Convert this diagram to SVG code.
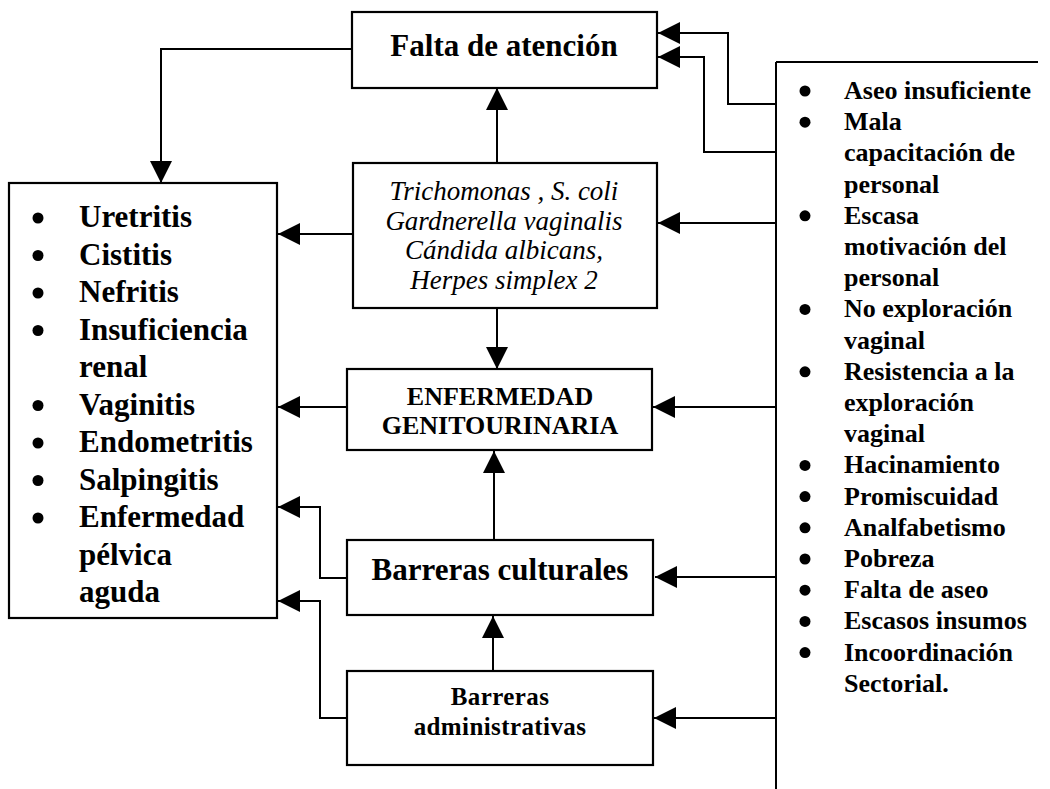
<svg xmlns="http://www.w3.org/2000/svg" width="1050" height="789" viewBox="0 0 1050 789">
<style>
.box{fill:#fff;stroke:#000;stroke-width:2.2}
.ln{fill:none;stroke:#000;stroke-width:2}
.b{font-family:"Liberation Serif","Times New Roman",serif;font-weight:bold;fill:#000}
.it{font-family:"Liberation Serif","Times New Roman",serif;font-style:italic;fill:#000;font-size:27px}
.c{text-anchor:middle}
.L{font-size:31px}
.R{font-size:26px}
</style>
<defs>
<marker id="ah" markerUnits="userSpaceOnUse" markerWidth="23" markerHeight="23" refX="22" refY="11" orient="auto">
<path d="M0,0 L22,11 L0,22 z" fill="#000"/>
</marker>
</defs>
<rect width="1050" height="789" fill="#fff"/>
<g id="connectors">
<path class="ln" marker-end="url(#ah)" d="M352,49 H161 V183"/>
<path class="ln" marker-end="url(#ah)" d="M497,163 V88"/>
<path class="ln" marker-end="url(#ah)" d="M352,234 H278"/>
<path class="ln" marker-end="url(#ah)" d="M776,104 H728 V33 H658"/>
<path class="ln" marker-end="url(#ah)" d="M776,152 H704 V57 H658"/>
<path class="ln" marker-end="url(#ah)" d="M776,223 H658"/>
<path class="ln" marker-end="url(#ah)" d="M497,308 V369"/>
<path class="ln" marker-end="url(#ah)" d="M347,407 H278"/>
<path class="ln" marker-end="url(#ah)" d="M776,407 H653"/>
<path class="ln" marker-end="url(#ah)" d="M494,540 V451"/>
<path class="ln" marker-end="url(#ah)" d="M347,578 H320 V507 H278"/>
<path class="ln" marker-end="url(#ah)" d="M776,577 H655"/>
<path class="ln" marker-end="url(#ah)" d="M493,671 V616"/>
<path class="ln" marker-end="url(#ah)" d="M347,718 H320 V601 H278"/>
<path class="ln" marker-end="url(#ah)" d="M776,718 H654"/>
</g>
<g id="falta">
<rect class="box" x="352" y="12" width="305" height="76"/>
<text class="b L c" x="504" y="56">Falta de atención</text>
</g>
<g id="efectos">
<rect class="box" x="9" y="183" width="268" height="435"/>
<g fill="#000">
<circle cx="38" cy="218" r="5.5"/><circle cx="38" cy="255.5" r="5.5"/><circle cx="38" cy="293" r="5.5"/><circle cx="38" cy="330.5" r="5.5"/><circle cx="38" cy="405.5" r="5.5"/><circle cx="38" cy="443" r="5.5"/><circle cx="38" cy="480.5" r="5.5"/><circle cx="38" cy="518" r="5.5"/>
</g>
<text class="b L" x="79" y="227">Uretritis</text>
<text class="b L" x="79" y="264.5">Cistitis</text>
<text class="b L" x="79" y="302">Nefritis</text>
<text class="b L" x="79" y="339.5">Insuficiencia</text>
<text class="b L" x="79" y="377">renal</text>
<text class="b L" x="79" y="414.5">Vaginitis</text>
<text class="b L" x="79" y="452">Endometritis</text>
<text class="b L" x="79" y="489.5">Salpingitis</text>
<text class="b L" x="79" y="527">Enfermedad</text>
<text class="b L" x="79" y="564.5">pélvica</text>
<text class="b L" x="79" y="602">aguda</text>
</g>
<g id="agentes">
<rect class="box" x="353" y="163" width="304" height="145"/>
<text class="it c" x="504" y="200">Trichomonas , S. coli</text>
<text class="it c" x="504" y="229.5">Gardnerella vaginalis</text>
<text class="it c" x="504" y="259">Cándida albicans,</text>
<text class="it c" x="504" y="288.5">Herpes simplex 2</text>
</g>
<g id="enfermedad">
<rect class="box" x="347" y="369" width="305" height="81"/>
<text class="b c" font-size="26" x="500" y="405">ENFERMEDAD</text>
<text class="b c" font-size="26" x="500" y="434">GENITOURINARIA</text>
</g>
<g id="culturales">
<rect class="box" x="347" y="540" width="306" height="75"/>
<text class="b L c" x="500" y="580">Barreras culturales</text>
</g>
<g id="administrativas">
<rect class="box" x="347" y="671" width="306" height="94"/>
<text class="b c" font-size="25" letter-spacing="0.4" x="500" y="705">Barreras</text>
<text class="b c" font-size="25" letter-spacing="0.4" x="500" y="735">administrativas</text>
</g>
<g id="factores">
<path class="ln" d="M776,62 H1038 M776,62 V789"/>
<g fill="#000">
<circle cx="805" cy="91" r="5.5"/><circle cx="805" cy="122.2" r="5.5"/><circle cx="805" cy="215.8" r="5.5"/><circle cx="805" cy="309.4" r="5.5"/><circle cx="805" cy="371.8" r="5.5"/><circle cx="805" cy="465.4" r="5.5"/><circle cx="805" cy="496.6" r="5.5"/><circle cx="805" cy="527.8" r="5.5"/><circle cx="805" cy="559" r="5.5"/><circle cx="805" cy="590.2" r="5.5"/><circle cx="805" cy="621.4" r="5.5"/><circle cx="805" cy="652.6" r="5.5"/>
</g>
<text class="b R" x="844" y="99">Aseo insuficiente</text>
<text class="b R" x="844" y="130.2">Mala</text>
<text class="b R" x="844" y="161.4">capacitación de</text>
<text class="b R" x="844" y="192.6">personal</text>
<text class="b R" x="844" y="223.8">Escasa</text>
<text class="b R" x="844" y="255">motivación del</text>
<text class="b R" x="844" y="286.2">personal</text>
<text class="b R" x="844" y="317.4">No exploración</text>
<text class="b R" x="844" y="348.6">vaginal</text>
<text class="b R" x="844" y="379.8">Resistencia a la</text>
<text class="b R" x="844" y="411">exploración</text>
<text class="b R" x="844" y="442.2">vaginal</text>
<text class="b R" x="844" y="473.4">Hacinamiento</text>
<text class="b R" x="844" y="504.6">Promiscuidad</text>
<text class="b R" x="844" y="535.8">Analfabetismo</text>
<text class="b R" x="844" y="567">Pobreza</text>
<text class="b R" x="844" y="598.2">Falta de aseo</text>
<text class="b R" x="844" y="629.4">Escasos insumos</text>
<text class="b R" x="844" y="660.6">Incoordinación</text>
<text class="b R" x="844" y="691.8">Sectorial.</text>
</g>
</svg>
